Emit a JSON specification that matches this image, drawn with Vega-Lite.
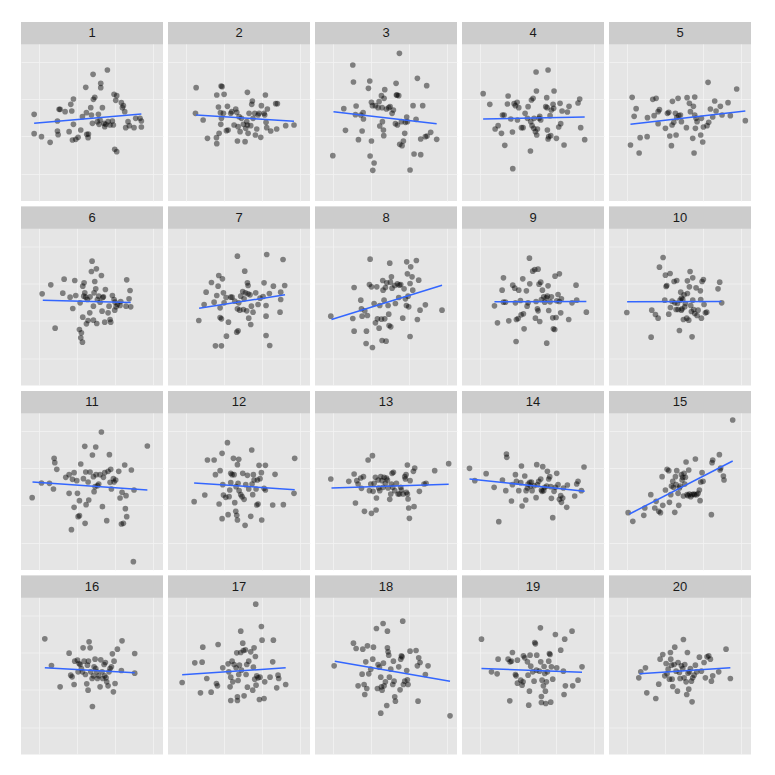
{
"$schema": "https://vega.github.io/schema/vega-lite/v6.json",
"background": "white",
"padding": {"left": 21, "top": 22, "right": 0, "bottom": 0},
"datasets": {
"pts": [
{"panel":1,"x":-185,"y":10},{"panel":1,"x":-185,"y":-48},{"panel":1,"x":-163,"y":-57},{"panel":1,"x":-137,"y":-74},{"panel":1,"x":-115,"y":-10},{"panel":1,"x":-115,"y":-40},{"panel":1,"x":-113,"y":-51},{"panel":1,"x":-110,"y":25},{"panel":1,"x":-107,"y":25},{"panel":1,"x":-92,"y":18},{"panel":1,"x":-75,"y":40},{"panel":1,"x":-72,"y":20},{"panel":1,"x":-67,"y":56},{"panel":1,"x":-80,"y":-42},{"panel":1,"x":-67,"y":-20},{"panel":1,"x":-70,"y":-67},{"panel":1,"x":-60,"y":-65},{"panel":1,"x":-53,"y":-59},{"panel":1,"x":-45,"y":-37},{"panel":1,"x":-40,"y":3},{"panel":1,"x":-30,"y":91},{"panel":1,"x":-28,"y":15},{"panel":1,"x":-27,"y":-50},{"panel":1,"x":-23,"y":-60},{"panel":1,"x":-22,"y":-49},{"panel":1,"x":-15,"y":30},{"panel":1,"x":-13,"y":8},{"panel":1,"x":-10,"y":-17},{"panel":1,"x":-8,"y":130},{"panel":1,"x":-7,"y":55},{"panel":1,"x":-3,"y":61},{"panel":1,"x":5,"y":-12},{"panel":1,"x":8,"y":10},{"panel":1,"x":10,"y":-20},{"panel":1,"x":13,"y":-7},{"panel":1,"x":15,"y":103},{"panel":1,"x":15,"y":90},{"panel":1,"x":20,"y":30},{"panel":1,"x":25,"y":-17},{"panel":1,"x":27,"y":-27},{"panel":1,"x":30,"y":-20},{"panel":1,"x":35,"y":143},{"panel":1,"x":37,"y":-12},{"panel":1,"x":43,"y":-22},{"panel":1,"x":50,"y":-10},{"panel":1,"x":53,"y":-22},{"panel":1,"x":55,"y":70},{"panel":1,"x":57,"y":-95},{"panel":1,"x":63,"y":-102},{"panel":1,"x":60,"y":52},{"panel":1,"x":63,"y":66},{"panel":1,"x":77,"y":45},{"panel":1,"x":80,"y":30},{"panel":1,"x":83,"y":36},{"panel":1,"x":87,"y":18},{"panel":1,"x":90,"y":-30},{"panel":1,"x":97,"y":-12},{"panel":1,"x":101,"y":-24},{"panel":1,"x":115,"y":-30},{"panel":1,"x":120,"y":-2},{"panel":1,"x":133,"y":-2},{"panel":1,"x":137,"y":-10},{"panel":1,"x":137,"y":-28},
{"panel":2,"x":-140,"y":90},{"panel":2,"x":-142,"y":13},{"panel":2,"x":-119,"y":-7},{"panel":2,"x":-106,"y":-62},{"panel":2,"x":-79,"y":-60},{"panel":2,"x":-78,"y":-78},{"panel":2,"x":-78,"y":68},{"panel":2,"x":-71,"y":-47},{"panel":2,"x":-73,"y":32},{"panel":2,"x":-67,"y":15},{"panel":2,"x":-65,"y":95},{"panel":2,"x":-62,"y":93},{"panel":2,"x":-56,"y":70},{"panel":2,"x":-66,"y":-20},{"panel":2,"x":-64,"y":-2},{"panel":2,"x":-58,"y":13},{"panel":2,"x":-49,"y":-39},{"panel":2,"x":-46,"y":34},{"panel":2,"x":-44,"y":-37},{"panel":2,"x":-36,"y":13},{"panel":2,"x":-33,"y":18},{"panel":2,"x":-26,"y":-22},{"panel":2,"x":-21,"y":26},{"panel":2,"x":-18,"y":16},{"panel":2,"x":-16,"y":-70},{"panel":2,"x":-14,"y":-27},{"panel":2,"x":-11,"y":3},{"panel":2,"x":-8,"y":-42},{"panel":2,"x":-4,"y":-2},{"panel":2,"x":2,"y":-20},{"panel":2,"x":7,"y":-72},{"panel":2,"x":9,"y":-32},{"panel":2,"x":12,"y":-12},{"panel":2,"x":14,"y":76},{"panel":2,"x":14,"y":-22},{"panel":2,"x":16,"y":-47},{"panel":2,"x":19,"y":13},{"panel":2,"x":24,"y":-24},{"panel":2,"x":27,"y":40},{"panel":2,"x":29,"y":50},{"panel":2,"x":31,"y":-2},{"panel":2,"x":36,"y":13},{"panel":2,"x":38,"y":-52},{"panel":2,"x":42,"y":-34},{"panel":2,"x":46,"y":8},{"panel":2,"x":49,"y":13},{"panel":2,"x":54,"y":-59},{"panel":2,"x":56,"y":36},{"panel":2,"x":64,"y":13},{"panel":2,"x":66,"y":8},{"panel":2,"x":68,"y":68},{"panel":2,"x":70,"y":-14},{"panel":2,"x":72,"y":-30},{"panel":2,"x":74,"y":26},{"panel":2,"x":84,"y":-40},{"panel":2,"x":99,"y":42},{"panel":2,"x":104,"y":42},{"panel":2,"x":102,"y":-34},{"panel":2,"x":129,"y":-24},{"panel":2,"x":154,"y":-22},
{"panel":3,"x":-171,"y":-114},{"panel":3,"x":-138,"y":27},{"panel":3,"x":-133,"y":-38},{"panel":3,"x":-111,"y":158},{"panel":3,"x":-109,"y":107},{"panel":3,"x":-103,"y":9},{"panel":3,"x":-101,"y":35},{"panel":3,"x":-94,"y":-66},{"panel":3,"x":-87,"y":8},{"panel":3,"x":-83,"y":-40},{"panel":3,"x":-80,"y":15},{"panel":3,"x":-79,"y":-4},{"panel":3,"x":-64,"y":88},{"panel":3,"x":-60,"y":110},{"panel":3,"x":-59,"y":-115},{"panel":3,"x":-55,"y":-70},{"panel":3,"x":-55,"y":46},{"panel":3,"x":-52,"y":36},{"panel":3,"x":-47,"y":-136},{"panel":3,"x":-51,"y":-158},{"panel":3,"x":-43,"y":36},{"panel":3,"x":-35,"y":30},{"panel":3,"x":-32,"y":48},{"panel":3,"x":-30,"y":-25},{"panel":3,"x":-25,"y":66},{"panel":3,"x":-23,"y":30},{"panel":3,"x":-22,"y":-12},{"panel":3,"x":-19,"y":-37},{"panel":3,"x":-18,"y":-54},{"panel":3,"x":-17,"y":58},{"panel":3,"x":-15,"y":84},{"panel":3,"x":-10,"y":26},{"panel":3,"x":-3,"y":30},{"panel":3,"x":1,"y":33},{"panel":3,"x":7,"y":13},{"panel":3,"x":11,"y":23},{"panel":3,"x":17,"y":-18},{"panel":3,"x":19,"y":103},{"panel":3,"x":20,"y":68},{"panel":3,"x":22,"y":68},{"panel":3,"x":23,"y":-22},{"panel":3,"x":27,"y":66},{"panel":3,"x":29,"y":193},{"panel":3,"x":30,"y":-80},{"panel":3,"x":35,"y":-12},{"panel":3,"x":37,"y":-84},{"panel":3,"x":41,"y":-70},{"panel":3,"x":45,"y":-47},{"panel":3,"x":47,"y":-14},{"panel":3,"x":51,"y":2},{"panel":3,"x":53,"y":-12},{"panel":3,"x":61,"y":-157},{"panel":3,"x":70,"y":36},{"panel":3,"x":73,"y":-109},{"panel":3,"x":79,"y":-5},{"panel":3,"x":83,"y":118},{"panel":3,"x":93,"y":-64},{"panel":3,"x":93,"y":-111},{"panel":3,"x":99,"y":36},{"panel":3,"x":107,"y":-57},{"panel":3,"x":112,"y":-55},{"panel":3,"x":111,"y":96},{"panel":3,"x":123,"y":-44},{"panel":3,"x":141,"y":-65},
{"panel":4,"x":-161,"y":72},{"panel":4,"x":-141,"y":40},{"panel":4,"x":-125,"y":-34},{"panel":4,"x":-116,"y":-24},{"panel":4,"x":-106,"y":-47},{"panel":4,"x":-103,"y":8},{"panel":4,"x":-98,"y":8},{"panel":4,"x":-96,"y":-83},{"panel":4,"x":-88,"y":41},{"panel":4,"x":-86,"y":65},{"panel":4,"x":-78,"y":-4},{"panel":4,"x":-73,"y":-43},{"panel":4,"x":-72,"y":-153},{"panel":4,"x":-68,"y":42},{"panel":4,"x":-64,"y":36},{"panel":4,"x":-59,"y":46},{"panel":4,"x":-58,"y":-7},{"panel":4,"x":-54,"y":30},{"panel":4,"x":-46,"y":-30},{"panel":4,"x":-41,"y":-30},{"panel":4,"x":-35,"y":13},{"panel":4,"x":-28,"y":-2},{"panel":4,"x":-26,"y":33},{"panel":4,"x":-19,"y":-100},{"panel":4,"x":-18,"y":-12},{"panel":4,"x":-16,"y":53},{"panel":4,"x":-14,"y":-24},{"panel":4,"x":-11,"y":58},{"panel":4,"x":-9,"y":-32},{"panel":4,"x":-8,"y":-2},{"panel":4,"x":-4,"y":-42},{"panel":4,"x":-2,"y":137},{"panel":4,"x":-1,"y":80},{"panel":4,"x":0,"y":-52},{"panel":4,"x":2,"y":-34},{"panel":4,"x":7,"y":-2},{"panel":4,"x":9,"y":4},{"panel":4,"x":12,"y":-7},{"panel":4,"x":27,"y":33},{"panel":4,"x":30,"y":60},{"panel":4,"x":31,"y":30},{"panel":4,"x":32,"y":-37},{"panel":4,"x":34,"y":143},{"panel":4,"x":34,"y":-64},{"panel":4,"x":36,"y":-57},{"panel":4,"x":40,"y":6},{"panel":4,"x":42,"y":-54},{"panel":4,"x":44,"y":23},{"panel":4,"x":49,"y":40},{"panel":4,"x":51,"y":28},{"panel":4,"x":52,"y":80},{"panel":4,"x":59,"y":-62},{"panel":4,"x":66,"y":-28},{"panel":4,"x":70,"y":43},{"panel":4,"x":72,"y":-18},{"panel":4,"x":76,"y":20},{"panel":4,"x":82,"y":-82},{"panel":4,"x":92,"y":17},{"panel":4,"x":97,"y":34},{"panel":4,"x":124,"y":44},{"panel":4,"x":129,"y":56},{"panel":4,"x":132,"y":-30},{"panel":4,"x":144,"y":-66},
{"panel":5,"x":-160,"y":-82},{"panel":5,"x":-155,"y":61},{"panel":5,"x":-149,"y":4},{"panel":5,"x":-143,"y":27},{"panel":5,"x":-134,"y":-106},{"panel":5,"x":-131,"y":-60},{"panel":5,"x":-110,"y":-57},{"panel":5,"x":-109,"y":0},{"panel":5,"x":-93,"y":55},{"panel":5,"x":-89,"y":6},{"panel":5,"x":-83,"y":58},{"panel":5,"x":-77,"y":18},{"panel":5,"x":-77,"y":-18},{"panel":5,"x":-73,"y":24},{"panel":5,"x":-55,"y":-32},{"panel":5,"x":-49,"y":13},{"panel":5,"x":-45,"y":16},{"panel":5,"x":-42,"y":-55},{"panel":5,"x":-37,"y":-84},{"panel":5,"x":-35,"y":-22},{"panel":5,"x":-34,"y":49},{"panel":5,"x":-30,"y":-14},{"panel":5,"x":-25,"y":13},{"panel":5,"x":-23,"y":-52},{"panel":5,"x":-21,"y":0},{"panel":5,"x":-17,"y":58},{"panel":5,"x":-15,"y":6},{"panel":5,"x":-10,"y":8},{"panel":5,"x":-7,"y":-12},{"panel":5,"x":8,"y":-30},{"panel":5,"x":10,"y":60},{"panel":5,"x":17,"y":43},{"panel":5,"x":20,"y":18},{"panel":5,"x":27,"y":-62},{"panel":5,"x":29,"y":34},{"panel":5,"x":31,"y":-106},{"panel":5,"x":33,"y":62},{"panel":5,"x":33,"y":8},{"panel":5,"x":35,"y":-32},{"panel":5,"x":37,"y":-2},{"panel":5,"x":40,"y":-12},{"panel":5,"x":51,"y":-52},{"panel":5,"x":53,"y":-2},{"panel":5,"x":57,"y":-73},{"panel":5,"x":59,"y":-28},{"panel":5,"x":70,"y":-24},{"panel":5,"x":73,"y":106},{"panel":5,"x":75,"y":-14},{"panel":5,"x":80,"y":26},{"panel":5,"x":87,"y":2},{"panel":5,"x":93,"y":50},{"panel":5,"x":97,"y":20},{"panel":5,"x":110,"y":34},{"panel":5,"x":115,"y":8},{"panel":5,"x":133,"y":45},{"panel":5,"x":140,"y":6},{"panel":5,"x":159,"y":86},{"panel":5,"x":185,"y":-9},
{"panel":6,"x":-161,"y":25},{"panel":6,"x":-135,"y":52},{"panel":6,"x":-122,"y":-78},{"panel":6,"x":-99,"y":27},{"panel":6,"x":-95,"y":69},{"panel":6,"x":-77,"y":15},{"panel":6,"x":-69,"y":-19},{"panel":6,"x":-63,"y":65},{"panel":6,"x":-60,"y":20},{"panel":6,"x":-49,"y":-82},{"panel":6,"x":-45,"y":-107},{"panel":6,"x":-43,"y":-92},{"panel":6,"x":-40,"y":-120},{"panel":6,"x":-39,"y":-45},{"panel":6,"x":-47,"y":-2},{"panel":6,"x":-39,"y":48},{"panel":6,"x":-36,"y":18},{"panel":6,"x":-35,"y":58},{"panel":6,"x":-33,"y":28},{"panel":6,"x":-30,"y":15},{"panel":6,"x":-28,"y":-65},{"panel":6,"x":-25,"y":8},{"panel":6,"x":-23,"y":-55},{"panel":6,"x":-18,"y":-32},{"panel":6,"x":-17,"y":16},{"panel":6,"x":-13,"y":92},{"panel":6,"x":-11,"y":123},{"panel":6,"x":-7,"y":-12},{"panel":6,"x":-7,"y":-54},{"panel":6,"x":-5,"y":28},{"panel":6,"x":-3,"y":62},{"panel":6,"x":0,"y":40},{"panel":6,"x":2,"y":100},{"panel":6,"x":3,"y":-64},{"panel":6,"x":5,"y":8},{"panel":6,"x":9,"y":18},{"panel":6,"x":13,"y":0},{"panel":6,"x":17,"y":80},{"panel":6,"x":19,"y":-27},{"panel":6,"x":21,"y":14},{"panel":6,"x":23,"y":16},{"panel":6,"x":27,"y":-60},{"panel":6,"x":29,"y":38},{"panel":6,"x":37,"y":-32},{"panel":6,"x":40,"y":-12},{"panel":6,"x":43,"y":-52},{"panel":6,"x":45,"y":-60},{"panel":6,"x":50,"y":20},{"panel":6,"x":55,"y":8},{"panel":6,"x":57,"y":-24},{"panel":6,"x":58,"y":0},{"panel":6,"x":61,"y":-14},{"panel":6,"x":65,"y":-7},{"panel":6,"x":73,"y":-10},{"panel":6,"x":75,"y":2},{"panel":6,"x":91,"y":-12},{"panel":6,"x":93,"y":67},{"panel":6,"x":100,"y":10},{"panel":6,"x":103,"y":35},{"panel":6,"x":105,"y":-14},
{"panel":7,"x":-132,"y":-55},{"panel":7,"x":-116,"y":-7},{"panel":7,"x":-110,"y":30},{"panel":7,"x":-94,"y":59},{"panel":7,"x":-86,"y":0},{"panel":7,"x":-82,"y":-131},{"panel":7,"x":-78,"y":20},{"panel":7,"x":-74,"y":48},{"panel":7,"x":-72,"y":80},{"panel":7,"x":-68,"y":-17},{"panel":7,"x":-68,"y":-46},{"panel":7,"x":-64,"y":-50},{"panel":7,"x":-64,"y":-131},{"panel":7,"x":-61,"y":70},{"panel":7,"x":-58,"y":28},{"panel":7,"x":-56,"y":-2},{"panel":7,"x":-50,"y":14},{"panel":7,"x":-49,"y":-102},{"panel":7,"x":-43,"y":-60},{"panel":7,"x":-36,"y":15},{"panel":7,"x":-32,"y":15},{"panel":7,"x":-24,"y":3},{"panel":7,"x":-18,"y":-90},{"panel":7,"x":-16,"y":138},{"panel":7,"x":-16,"y":-20},{"panel":7,"x":-14,"y":-86},{"panel":7,"x":-12,"y":-2},{"panel":7,"x":-9,"y":-24},{"panel":7,"x":-6,"y":18},{"panel":7,"x":0,"y":32},{"panel":7,"x":2,"y":-22},{"panel":7,"x":4,"y":10},{"panel":7,"x":6,"y":93},{"panel":7,"x":8,"y":28},{"panel":7,"x":12,"y":-26},{"panel":7,"x":14,"y":58},{"panel":7,"x":16,"y":50},{"panel":7,"x":16,"y":25},{"panel":7,"x":18,"y":-48},{"panel":7,"x":22,"y":22},{"panel":7,"x":24,"y":-67},{"panel":7,"x":26,"y":-12},{"panel":7,"x":31,"y":-30},{"panel":7,"x":39,"y":28},{"panel":7,"x":46,"y":-7},{"panel":7,"x":52,"y":12},{"panel":7,"x":61,"y":17},{"panel":7,"x":64,"y":58},{"panel":7,"x":70,"y":-42},{"panel":7,"x":70,"y":-10},{"panel":7,"x":70,"y":-100},{"panel":7,"x":72,"y":143},{"panel":7,"x":80,"y":26},{"panel":7,"x":81,"y":-130},{"panel":7,"x":92,"y":48},{"panel":7,"x":112,"y":-30},{"panel":7,"x":114,"y":8},{"panel":7,"x":114,"y":30},{"panel":7,"x":121,"y":128},{"panel":7,"x":126,"y":50},
{"panel":8,"x":-177,"y":-42},{"panel":8,"x":-111,"y":-49},{"panel":8,"x":-107,"y":44},{"panel":8,"x":-107,"y":-87},{"panel":8,"x":-87,"y":6},{"panel":8,"x":-85,"y":-20},{"panel":8,"x":-83,"y":-42},{"panel":8,"x":-75,"y":-26},{"panel":8,"x":-71,"y":-124},{"panel":8,"x":-70,"y":-87},{"panel":8,"x":-67,"y":-40},{"panel":8,"x":-61,"y":53},{"panel":8,"x":-59,"y":129},{"panel":8,"x":-55,"y":46},{"panel":8,"x":-52,"y":-136},{"panel":8,"x":-47,"y":-4},{"panel":8,"x":-43,"y":-62},{"panel":8,"x":-39,"y":46},{"panel":8,"x":-37,"y":-50},{"panel":8,"x":-32,"y":-78},{"panel":8,"x":-30,"y":-10},{"panel":8,"x":-25,"y":-51},{"panel":8,"x":-23,"y":-115},{"panel":8,"x":-21,"y":65},{"panel":8,"x":-20,"y":36},{"panel":8,"x":-17,"y":6},{"panel":8,"x":-15,"y":-50},{"panel":8,"x":-13,"y":44},{"panel":8,"x":-11,"y":-117},{"panel":8,"x":-9,"y":58},{"panel":8,"x":-5,"y":-10},{"panel":8,"x":-3,"y":-36},{"panel":8,"x":-2,"y":-70},{"panel":8,"x":0,"y":117},{"panel":8,"x":2,"y":60},{"panel":8,"x":3,"y":-74},{"panel":8,"x":5,"y":76},{"panel":8,"x":7,"y":42},{"panel":8,"x":15,"y":50},{"panel":8,"x":17,"y":-4},{"panel":8,"x":23,"y":55},{"panel":8,"x":27,"y":14},{"panel":8,"x":29,"y":51},{"panel":8,"x":33,"y":53},{"panel":8,"x":39,"y":-48},{"panel":8,"x":43,"y":40},{"panel":8,"x":47,"y":10},{"panel":8,"x":50,"y":-10},{"panel":8,"x":51,"y":121},{"panel":8,"x":53,"y":85},{"panel":8,"x":55,"y":18},{"panel":8,"x":57,"y":-14},{"panel":8,"x":61,"y":56},{"panel":8,"x":61,"y":-103},{"panel":8,"x":63,"y":106},{"panel":8,"x":67,"y":76},{"panel":8,"x":69,"y":36},{"panel":8,"x":80,"y":125},{"panel":8,"x":83,"y":-52},{"panel":8,"x":87,"y":66},{"panel":8,"x":91,"y":-24},{"panel":8,"x":107,"y":-8},{"panel":8,"x":157,"y":-24},
{"panel":9,"x":-127,"y":-11},{"panel":9,"x":-118,"y":-62},{"panel":9,"x":-104,"y":36},{"panel":9,"x":-100,"y":73},{"panel":9,"x":-100,"y":0},{"panel":9,"x":-94,"y":0},{"panel":9,"x":-84,"y":-56},{"panel":9,"x":-72,"y":51},{"panel":9,"x":-66,"y":42},{"panel":9,"x":-64,"y":-2},{"panel":9,"x":-62,"y":-118},{"panel":9,"x":-61,"y":-52},{"panel":9,"x":-56,"y":-49},{"panel":9,"x":-54,"y":36},{"panel":9,"x":-49,"y":5},{"panel":9,"x":-47,"y":-38},{"panel":9,"x":-42,"y":70},{"panel":9,"x":-40,"y":-35},{"panel":9,"x":-38,"y":-80},{"panel":9,"x":-31,"y":34},{"panel":9,"x":-29,"y":-12},{"panel":9,"x":-26,"y":-2},{"panel":9,"x":-22,"y":132},{"panel":9,"x":-21,"y":55},{"panel":9,"x":-12,"y":93},{"panel":9,"x":-6,"y":98},{"panel":9,"x":-4,"y":-48},{"panel":9,"x":-2,"y":2},{"panel":9,"x":2,"y":-20},{"panel":9,"x":4,"y":-26},{"panel":9,"x":4,"y":99},{"panel":9,"x":7,"y":54},{"panel":9,"x":9,"y":-58},{"panel":9,"x":12,"y":60},{"panel":9,"x":14,"y":8},{"panel":9,"x":17,"y":36},{"panel":9,"x":21,"y":16},{"panel":9,"x":24,"y":0},{"panel":9,"x":29,"y":13},{"panel":9,"x":30,"y":-123},{"panel":9,"x":32,"y":18},{"panel":9,"x":34,"y":49},{"panel":9,"x":36,"y":-25},{"panel":9,"x":40,"y":1},{"panel":9,"x":44,"y":16},{"panel":9,"x":48,"y":-47},{"panel":9,"x":50,"y":-80},{"panel":9,"x":54,"y":-82},{"panel":9,"x":55,"y":78},{"panel":9,"x":58,"y":-46},{"panel":9,"x":60,"y":4},{"panel":9,"x":64,"y":23},{"panel":9,"x":68,"y":85},{"panel":9,"x":68,"y":2},{"panel":9,"x":72,"y":-32},{"panel":9,"x":74,"y":10},{"panel":9,"x":96,"y":-52},{"panel":9,"x":106,"y":-2},{"panel":9,"x":118,"y":51},{"panel":9,"x":120,"y":6},{"panel":9,"x":149,"y":-30},
{"panel":10,"x":-171,"y":-31},{"panel":10,"x":-98,"y":-105},{"panel":10,"x":-96,"y":-24},{"panel":10,"x":-85,"y":-37},{"panel":10,"x":-77,"y":-48},{"panel":10,"x":-73,"y":105},{"panel":10,"x":-62,"y":134},{"panel":10,"x":-57,"y":6},{"panel":10,"x":-55,"y":81},{"panel":10,"x":-53,"y":47},{"panel":10,"x":-51,"y":50},{"panel":10,"x":-45,"y":-36},{"panel":10,"x":-41,"y":86},{"panel":10,"x":-40,"y":-16},{"panel":10,"x":-35,"y":3},{"panel":10,"x":-29,"y":62},{"panel":10,"x":-27,"y":-2},{"panel":10,"x":-23,"y":-22},{"panel":10,"x":-21,"y":65},{"panel":10,"x":-19,"y":-4},{"panel":10,"x":-17,"y":-22},{"panel":10,"x":-13,"y":-85},{"panel":10,"x":-11,"y":6},{"panel":10,"x":-9,"y":30},{"panel":10,"x":-7,"y":12},{"panel":10,"x":-7,"y":-24},{"panel":10,"x":-5,"y":-20},{"panel":10,"x":-3,"y":8},{"panel":10,"x":-1,"y":-52},{"panel":10,"x":1,"y":22},{"panel":10,"x":3,"y":-14},{"panel":10,"x":5,"y":-4},{"panel":10,"x":9,"y":-48},{"panel":10,"x":11,"y":26},{"panel":10,"x":11,"y":64},{"panel":10,"x":15,"y":-54},{"panel":10,"x":17,"y":46},{"panel":10,"x":19,"y":92},{"panel":10,"x":21,"y":-10},{"panel":10,"x":23,"y":-28},{"panel":10,"x":25,"y":-104},{"panel":10,"x":27,"y":73},{"panel":10,"x":27,"y":6},{"panel":10,"x":30,"y":-22},{"panel":10,"x":33,"y":-34},{"panel":10,"x":37,"y":43},{"panel":10,"x":40,"y":-40},{"panel":10,"x":43,"y":-24},{"panel":10,"x":50,"y":34},{"panel":10,"x":51,"y":8},{"panel":10,"x":53,"y":-48},{"panel":10,"x":55,"y":62},{"panel":10,"x":59,"y":68},{"panel":10,"x":61,"y":-7},{"panel":10,"x":65,"y":-32},{"panel":10,"x":69,"y":-30},{"panel":10,"x":103,"y":40},{"panel":10,"x":108,"y":60},{"panel":10,"x":114,"y":-2},
{"panel":11,"x":-191,"y":-33},{"panel":11,"x":-163,"y":11},{"panel":11,"x":-139,"y":10},{"panel":11,"x":-127,"y":-7},{"panel":11,"x":-125,"y":85},{"panel":11,"x":-123,"y":72},{"panel":11,"x":-117,"y":52},{"panel":11,"x":-90,"y":28},{"panel":11,"x":-80,"y":-20},{"panel":11,"x":-80,"y":36},{"panel":11,"x":-73,"y":-129},{"panel":11,"x":-70,"y":22},{"panel":11,"x":-65,"y":42},{"panel":11,"x":-65,"y":-62},{"panel":11,"x":-57,"y":18},{"panel":11,"x":-55,"y":-20},{"panel":11,"x":-53,"y":-90},{"panel":11,"x":-49,"y":-87},{"panel":11,"x":-49,"y":-42},{"panel":11,"x":-45,"y":68},{"panel":11,"x":-37,"y":24},{"panel":11,"x":-33,"y":121},{"panel":11,"x":-32,"y":-110},{"panel":11,"x":-30,"y":44},{"panel":11,"x":-29,"y":-54},{"panel":11,"x":-23,"y":14},{"panel":11,"x":-21,"y":-40},{"panel":11,"x":-17,"y":44},{"panel":11,"x":-10,"y":95},{"panel":11,"x":-7,"y":30},{"panel":11,"x":-5,"y":-15},{"panel":11,"x":-2,"y":0},{"panel":11,"x":0,"y":119},{"panel":11,"x":1,"y":36},{"panel":11,"x":5,"y":3},{"panel":11,"x":9,"y":8},{"panel":11,"x":13,"y":36},{"panel":11,"x":17,"y":164},{"panel":11,"x":20,"y":-60},{"panel":11,"x":23,"y":28},{"panel":11,"x":27,"y":42},{"panel":11,"x":33,"y":-102},{"panel":11,"x":37,"y":46},{"panel":11,"x":41,"y":96},{"panel":11,"x":43,"y":13},{"panel":11,"x":45,"y":52},{"panel":11,"x":47,"y":-7},{"panel":11,"x":53,"y":24},{"panel":11,"x":55,"y":14},{"panel":11,"x":60,"y":20},{"panel":11,"x":69,"y":46},{"panel":11,"x":73,"y":-34},{"panel":11,"x":77,"y":-112},{"panel":11,"x":79,"y":-17},{"panel":11,"x":83,"y":-110},{"panel":11,"x":87,"y":65},{"panel":11,"x":89,"y":-66},{"panel":11,"x":91,"y":-27},{"panel":11,"x":93,"y":-90},{"panel":11,"x":107,"y":50},{"panel":11,"x":113,"y":-225},{"panel":11,"x":115,"y":-10},{"panel":11,"x":155,"y":122},
{"panel":12,"x":-146,"y":-45},{"panel":12,"x":-114,"y":-25},{"panel":12,"x":-106,"y":80},{"panel":12,"x":-86,"y":80},{"panel":12,"x":-82,"y":36},{"panel":12,"x":-71,"y":-52},{"panel":12,"x":-68,"y":48},{"panel":12,"x":-62,"y":100},{"panel":12,"x":-62,"y":-96},{"panel":12,"x":-60,"y":6},{"panel":12,"x":-58,"y":-25},{"panel":12,"x":-51,"y":-32},{"panel":12,"x":-46,"y":132},{"panel":12,"x":-44,"y":-84},{"panel":12,"x":-41,"y":-30},{"panel":12,"x":-39,"y":-10},{"panel":12,"x":-36,"y":12},{"panel":12,"x":-36,"y":40},{"panel":12,"x":-32,"y":36},{"panel":12,"x":-28,"y":85},{"panel":12,"x":-26,"y":36},{"panel":12,"x":-24,"y":-48},{"panel":12,"x":-21,"y":-74},{"panel":12,"x":-20,"y":0},{"panel":12,"x":-18,"y":-86},{"panel":12,"x":-16,"y":-100},{"panel":12,"x":-16,"y":66},{"panel":12,"x":-14,"y":10},{"panel":12,"x":-12,"y":82},{"panel":12,"x":-11,"y":-12},{"panel":12,"x":-6,"y":-24},{"panel":12,"x":-2,"y":-30},{"panel":12,"x":0,"y":40},{"panel":12,"x":4,"y":-38},{"panel":12,"x":7,"y":-116},{"panel":12,"x":9,"y":6},{"panel":12,"x":14,"y":34},{"panel":12,"x":18,"y":-7},{"panel":12,"x":24,"y":-89},{"panel":12,"x":27,"y":110},{"panel":12,"x":28,"y":8},{"panel":12,"x":30,"y":-24},{"panel":12,"x":32,"y":36},{"panel":12,"x":34,"y":20},{"panel":12,"x":40,"y":-7},{"panel":12,"x":42,"y":-55},{"panel":12,"x":44,"y":20},{"panel":12,"x":46,"y":-52},{"panel":12,"x":49,"y":64},{"panel":12,"x":52,"y":24},{"panel":12,"x":56,"y":42},{"panel":12,"x":57,"y":-100},{"panel":12,"x":64,"y":-5},{"panel":12,"x":68,"y":64},{"panel":12,"x":68,"y":-10},{"panel":12,"x":90,"y":-55},{"panel":12,"x":97,"y":37},{"panel":12,"x":122,"y":-54},{"panel":12,"x":154,"y":-20},{"panel":12,"x":156,"y":85},
{"panel":13,"x":-177,"y":23},{"panel":13,"x":-123,"y":16},{"panel":13,"x":-107,"y":38},{"panel":13,"x":-103,"y":-49},{"panel":13,"x":-99,"y":18},{"panel":13,"x":-95,"y":8},{"panel":13,"x":-87,"y":26},{"panel":13,"x":-85,"y":-5},{"panel":13,"x":-79,"y":30},{"panel":13,"x":-76,"y":-74},{"panel":13,"x":-65,"y":80},{"panel":13,"x":-61,"y":-12},{"panel":13,"x":-57,"y":8},{"panel":13,"x":-55,"y":-80},{"panel":13,"x":-52,"y":93},{"panel":13,"x":-50,"y":-14},{"panel":13,"x":-47,"y":10},{"panel":13,"x":-43,"y":28},{"panel":13,"x":-41,"y":-70},{"panel":13,"x":-40,"y":-34},{"panel":13,"x":-35,"y":20},{"panel":13,"x":-33,"y":-4},{"panel":13,"x":-30,"y":-12},{"panel":13,"x":-27,"y":30},{"panel":13,"x":-23,"y":18},{"panel":13,"x":-20,"y":-2},{"panel":13,"x":-17,"y":28},{"panel":13,"x":-13,"y":10},{"panel":13,"x":-10,"y":26},{"panel":13,"x":-7,"y":20},{"panel":13,"x":-5,"y":-4},{"panel":13,"x":0,"y":-38},{"panel":13,"x":3,"y":-22},{"panel":13,"x":5,"y":8},{"panel":13,"x":7,"y":40},{"panel":13,"x":9,"y":-2},{"panel":13,"x":11,"y":43},{"panel":13,"x":15,"y":-12},{"panel":13,"x":20,"y":10},{"panel":13,"x":25,"y":-22},{"panel":13,"x":29,"y":-22},{"panel":13,"x":33,"y":-2},{"panel":13,"x":35,"y":-10},{"panel":13,"x":40,"y":-22},{"panel":13,"x":45,"y":30},{"panel":13,"x":47,"y":23},{"panel":13,"x":49,"y":36},{"panel":13,"x":50,"y":-17},{"panel":13,"x":53,"y":65},{"panel":13,"x":53,"y":-22},{"panel":13,"x":55,"y":-37},{"panel":13,"x":57,"y":-64},{"panel":13,"x":59,"y":-95},{"panel":13,"x":61,"y":18},{"panel":13,"x":71,"y":46},{"panel":13,"x":73,"y":-60},{"panel":13,"x":75,"y":56},{"panel":13,"x":89,"y":-14},{"panel":13,"x":103,"y":8},{"panel":13,"x":109,"y":10},{"panel":13,"x":135,"y":48},{"panel":13,"x":177,"y":69},
{"panel":14,"x":-202,"y":55},{"panel":14,"x":-186,"y":18},{"panel":14,"x":-152,"y":39},{"panel":14,"x":-128,"y":-2},{"panel":14,"x":-114,"y":-105},{"panel":14,"x":-103,"y":20},{"panel":14,"x":-93,"y":-12},{"panel":14,"x":-91,"y":98},{"panel":14,"x":-90,"y":88},{"panel":14,"x":-76,"y":-43},{"panel":14,"x":-73,"y":6},{"panel":14,"x":-64,"y":36},{"panel":14,"x":-61,"y":16},{"panel":14,"x":-54,"y":-12},{"panel":14,"x":-48,"y":12},{"panel":14,"x":-46,"y":62},{"panel":14,"x":-44,"y":-58},{"panel":14,"x":-36,"y":32},{"panel":14,"x":-33,"y":-40},{"panel":14,"x":-32,"y":-12},{"panel":14,"x":-28,"y":-4},{"panel":14,"x":-26,"y":8},{"panel":14,"x":-21,"y":13},{"panel":14,"x":-19,"y":2},{"panel":14,"x":-16,"y":14},{"panel":14,"x":-14,"y":-12},{"panel":14,"x":-8,"y":3},{"panel":14,"x":-2,"y":-33},{"panel":14,"x":0,"y":66},{"panel":14,"x":2,"y":6},{"panel":14,"x":6,"y":16},{"panel":14,"x":12,"y":23},{"panel":14,"x":14,"y":-10},{"panel":14,"x":16,"y":-14},{"panel":14,"x":18,"y":60},{"panel":14,"x":21,"y":-12},{"panel":14,"x":24,"y":-2},{"panel":14,"x":30,"y":2},{"panel":14,"x":32,"y":46},{"panel":14,"x":36,"y":23},{"panel":14,"x":39,"y":30},{"panel":14,"x":42,"y":0},{"panel":14,"x":44,"y":-35},{"panel":14,"x":48,"y":-93},{"panel":14,"x":52,"y":-14},{"panel":14,"x":56,"y":-2},{"panel":14,"x":60,"y":40},{"panel":14,"x":64,"y":6},{"panel":14,"x":68,"y":-38},{"panel":14,"x":72,"y":-27},{"panel":14,"x":74,"y":-47},{"panel":14,"x":78,"y":-34},{"panel":14,"x":80,"y":-4},{"panel":14,"x":90,"y":-62},{"panel":14,"x":92,"y":5},{"panel":14,"x":114,"y":-28},{"panel":14,"x":120,"y":8},{"panel":14,"x":124,"y":16},{"panel":14,"x":134,"y":-12},{"panel":14,"x":142,"y":59},
{"panel":15,"x":-167,"y":-78},{"panel":15,"x":-153,"y":-104},{"panel":15,"x":-120,"y":-86},{"panel":15,"x":-117,"y":-64},{"panel":15,"x":-99,"y":-24},{"panel":15,"x":-87,"y":-64},{"panel":15,"x":-83,"y":-44},{"panel":15,"x":-75,"y":-74},{"panel":15,"x":-70,"y":-78},{"panel":15,"x":-63,"y":-56},{"panel":15,"x":-65,"y":30},{"panel":15,"x":-55,"y":-10},{"panel":15,"x":-50,"y":52},{"panel":15,"x":-45,"y":48},{"panel":15,"x":-43,"y":-47},{"panel":15,"x":-39,"y":-24},{"panel":15,"x":-37,"y":2},{"panel":15,"x":-33,"y":16},{"panel":15,"x":-31,"y":-2},{"panel":15,"x":-27,"y":-77},{"panel":15,"x":-25,"y":30},{"panel":15,"x":-23,"y":6},{"panel":15,"x":-21,"y":48},{"panel":15,"x":-17,"y":-20},{"panel":15,"x":-15,"y":-56},{"panel":15,"x":-13,"y":-4},{"panel":15,"x":-11,"y":2},{"panel":15,"x":-7,"y":36},{"panel":15,"x":-5,"y":20},{"panel":15,"x":-3,"y":28},{"panel":15,"x":-1,"y":-28},{"panel":15,"x":1,"y":40},{"panel":15,"x":3,"y":8},{"panel":15,"x":5,"y":28},{"panel":15,"x":7,"y":74},{"panel":15,"x":10,"y":-24},{"panel":15,"x":13,"y":-27},{"panel":15,"x":15,"y":50},{"panel":15,"x":17,"y":-22},{"panel":15,"x":21,"y":-30},{"panel":15,"x":25,"y":-24},{"panel":15,"x":30,"y":-22},{"panel":15,"x":33,"y":-24},{"panel":15,"x":35,"y":83},{"panel":15,"x":39,"y":-24},{"panel":15,"x":43,"y":-20},{"panel":15,"x":47,"y":-10},{"panel":15,"x":49,"y":-42},{"panel":15,"x":51,"y":14},{"panel":15,"x":55,"y":42},{"panel":15,"x":58,"y":16},{"panel":15,"x":83,"y":-84},{"panel":15,"x":85,"y":72},{"panel":15,"x":87,"y":80},{"panel":15,"x":107,"y":96},{"panel":15,"x":109,"y":50},{"panel":15,"x":111,"y":56},{"panel":15,"x":119,"y":32},{"panel":15,"x":121,"y":20},{"panel":15,"x":147,"y":200},
{"panel":16,"x":-153,"y":97},{"panel":16,"x":-133,"y":17},{"panel":16,"x":-107,"y":-47},{"panel":16,"x":-80,"y":54},{"panel":16,"x":-75,"y":-12},{"panel":16,"x":-71,"y":-17},{"panel":16,"x":-65,"y":-40},{"panel":16,"x":-63,"y":30},{"panel":16,"x":-55,"y":33},{"panel":16,"x":-53,"y":-2},{"panel":16,"x":-50,"y":23},{"panel":16,"x":-47,"y":20},{"panel":16,"x":-43,"y":8},{"panel":16,"x":-40,"y":-2},{"panel":16,"x":-38,"y":70},{"panel":16,"x":-35,"y":30},{"panel":16,"x":-31,"y":-10},{"panel":16,"x":-27,"y":-38},{"panel":16,"x":-25,"y":18},{"panel":16,"x":-23,"y":-57},{"panel":16,"x":-22,"y":30},{"panel":16,"x":-20,"y":88},{"panel":16,"x":-17,"y":70},{"panel":16,"x":-15,"y":-2},{"panel":16,"x":-11,"y":-22},{"panel":16,"x":-10,"y":-106},{"panel":16,"x":-7,"y":-14},{"panel":16,"x":-5,"y":13},{"panel":16,"x":-2,"y":36},{"panel":16,"x":0,"y":8},{"panel":16,"x":3,"y":-2},{"panel":16,"x":5,"y":-22},{"panel":16,"x":9,"y":-14},{"panel":16,"x":13,"y":-47},{"panel":16,"x":15,"y":34},{"panel":16,"x":19,"y":-2},{"panel":16,"x":21,"y":-22},{"panel":16,"x":25,"y":20},{"panel":16,"x":27,"y":-14},{"panel":16,"x":29,"y":26},{"panel":16,"x":31,"y":-20},{"panel":16,"x":33,"y":-32},{"panel":16,"x":37,"y":-44},{"panel":16,"x":40,"y":-2},{"panel":16,"x":43,"y":8},{"panel":16,"x":47,"y":13},{"panel":16,"x":50,"y":52},{"panel":16,"x":53,"y":-62},{"panel":16,"x":55,"y":30},{"panel":16,"x":58,"y":-37},{"panel":16,"x":65,"y":66},{"panel":16,"x":77,"y":2},{"panel":16,"x":79,"y":91},{"panel":16,"x":117,"y":53},{"panel":16,"x":117,"y":-6},
{"panel":17,"x":-182,"y":-34},{"panel":17,"x":-144,"y":25},{"panel":17,"x":-127,"y":-65},{"panel":17,"x":-122,"y":27},{"panel":17,"x":-120,"y":72},{"panel":17,"x":-108,"y":-22},{"panel":17,"x":-95,"y":-63},{"panel":17,"x":-79,"y":-37},{"panel":17,"x":-76,"y":-44},{"panel":17,"x":-74,"y":80},{"panel":17,"x":-60,"y":10},{"panel":17,"x":-44,"y":22},{"panel":17,"x":-42,"y":-2},{"panel":17,"x":-38,"y":-47},{"panel":17,"x":-36,"y":-88},{"panel":17,"x":-36,"y":-18},{"panel":17,"x":-32,"y":30},{"panel":17,"x":-30,"y":-32},{"panel":17,"x":-26,"y":20},{"panel":17,"x":-20,"y":10},{"panel":17,"x":-18,"y":55},{"panel":17,"x":-16,"y":-88},{"panel":17,"x":-16,"y":-77},{"panel":17,"x":-14,"y":-28},{"panel":17,"x":-12,"y":-10},{"panel":17,"x":-10,"y":18},{"panel":17,"x":-6,"y":120},{"panel":17,"x":-6,"y":56},{"panel":17,"x":-4,"y":3},{"panel":17,"x":0,"y":84},{"panel":17,"x":2,"y":62},{"panel":17,"x":4,"y":-74},{"panel":17,"x":8,"y":64},{"panel":17,"x":10,"y":-10},{"panel":17,"x":12,"y":20},{"panel":17,"x":14,"y":-48},{"panel":17,"x":18,"y":30},{"panel":17,"x":24,"y":58},{"panel":17,"x":30,"y":-57},{"panel":17,"x":32,"y":12},{"panel":17,"x":34,"y":70},{"panel":17,"x":36,"y":-24},{"panel":17,"x":38,"y":44},{"panel":17,"x":39,"y":201},{"panel":17,"x":40,"y":-42},{"panel":17,"x":42,"y":-14},{"panel":17,"x":46,"y":-20},{"panel":17,"x":50,"y":-85},{"panel":17,"x":52,"y":-18},{"panel":17,"x":56,"y":134},{"panel":17,"x":58,"y":93},{"panel":17,"x":64,"y":-82},{"panel":17,"x":66,"y":-32},{"panel":17,"x":82,"y":-18},{"panel":17,"x":90,"y":28},{"panel":17,"x":92,"y":93},{"panel":17,"x":102,"y":-50},{"panel":17,"x":106,"y":-12},{"panel":17,"x":108,"y":-22},{"panel":17,"x":129,"y":-40},
{"panel":18,"x":-167,"y":16},{"panel":18,"x":-109,"y":84},{"panel":18,"x":-101,"y":68},{"panel":18,"x":-95,"y":-44},{"panel":18,"x":-83,"y":-9},{"panel":18,"x":-81,"y":66},{"panel":18,"x":-77,"y":-40},{"panel":18,"x":-75,"y":-70},{"panel":18,"x":-72,"y":28},{"panel":18,"x":-69,"y":-52},{"panel":18,"x":-67,"y":76},{"panel":18,"x":-63,"y":-8},{"panel":18,"x":-57,"y":6},{"panel":18,"x":-51,"y":36},{"panel":18,"x":-49,"y":72},{"panel":18,"x":-40,"y":128},{"panel":18,"x":-37,"y":-52},{"panel":18,"x":-35,"y":20},{"panel":18,"x":-31,"y":12},{"panel":18,"x":-27,"y":-126},{"panel":18,"x":-27,"y":-18},{"panel":18,"x":-25,"y":-47},{"panel":18,"x":-23,"y":-57},{"panel":18,"x":-20,"y":143},{"panel":18,"x":-19,"y":24},{"panel":18,"x":-17,"y":-44},{"panel":18,"x":-13,"y":-32},{"panel":18,"x":-9,"y":-103},{"panel":18,"x":-7,"y":120},{"panel":18,"x":-7,"y":70},{"panel":18,"x":-5,"y":58},{"panel":18,"x":-3,"y":48},{"panel":18,"x":-1,"y":-18},{"panel":18,"x":3,"y":6},{"panel":18,"x":9,"y":-40},{"panel":18,"x":11,"y":30},{"panel":18,"x":13,"y":-30},{"panel":18,"x":15,"y":-77},{"panel":18,"x":17,"y":-90},{"panel":18,"x":27,"y":13},{"panel":18,"x":31,"y":-56},{"panel":18,"x":33,"y":36},{"panel":18,"x":35,"y":46},{"panel":18,"x":37,"y":43},{"panel":18,"x":39,"y":150},{"panel":18,"x":41,"y":-40},{"panel":18,"x":45,"y":-30},{"panel":18,"x":51,"y":2},{"panel":18,"x":53,"y":-26},{"panel":18,"x":55,"y":-40},{"panel":18,"x":61,"y":60},{"panel":18,"x":79,"y":62},{"panel":18,"x":83,"y":16},{"panel":18,"x":87,"y":40},{"panel":18,"x":91,"y":26},{"panel":18,"x":85,"y":-90},{"panel":18,"x":107,"y":-10},{"panel":18,"x":115,"y":16},{"panel":18,"x":181,"y":-134},
{"panel":19,"x":-166,"y":96},{"panel":19,"x":-136,"y":-2},{"panel":19,"x":-119,"y":-8},{"panel":19,"x":-116,"y":36},{"panel":19,"x":-86,"y":36},{"panel":19,"x":-81,"y":-89},{"panel":19,"x":-80,"y":28},{"panel":19,"x":-76,"y":30},{"panel":19,"x":-73,"y":56},{"panel":19,"x":-64,"y":-10},{"panel":19,"x":-62,"y":-14},{"panel":19,"x":-58,"y":33},{"panel":19,"x":-58,"y":-36},{"panel":19,"x":-48,"y":-27},{"panel":19,"x":-44,"y":-42},{"panel":19,"x":-41,"y":-32},{"panel":19,"x":-40,"y":46},{"panel":19,"x":-36,"y":40},{"panel":19,"x":-28,"y":28},{"panel":19,"x":-26,"y":-12},{"panel":19,"x":-24,"y":-102},{"panel":19,"x":-22,"y":-60},{"panel":19,"x":-20,"y":48},{"panel":19,"x":-18,"y":15},{"panel":19,"x":-12,"y":-2},{"panel":19,"x":-8,"y":-30},{"panel":19,"x":-6,"y":86},{"panel":19,"x":-4,"y":82},{"panel":19,"x":-1,"y":3},{"panel":19,"x":0,"y":48},{"panel":19,"x":8,"y":0},{"panel":19,"x":11,"y":130},{"panel":19,"x":12,"y":28},{"panel":19,"x":14,"y":-76},{"panel":19,"x":14,"y":-94},{"panel":19,"x":16,"y":-27},{"panel":19,"x":20,"y":-44},{"panel":19,"x":22,"y":14},{"panel":19,"x":24,"y":-7},{"panel":19,"x":26,"y":-60},{"panel":19,"x":27,"y":-97},{"panel":19,"x":29,"y":-32},{"panel":19,"x":32,"y":-2},{"panel":19,"x":36,"y":30},{"panel":19,"x":38,"y":53},{"panel":19,"x":40,"y":50},{"panel":19,"x":42,"y":-93},{"panel":19,"x":44,"y":13},{"panel":19,"x":48,"y":-24},{"panel":19,"x":60,"y":10},{"panel":19,"x":72,"y":63},{"panel":19,"x":80,"y":0},{"panel":19,"x":82,"y":-70},{"panel":19,"x":84,"y":96},{"panel":19,"x":86,"y":-44},{"panel":19,"x":56,"y":110},{"panel":19,"x":106,"y":120},{"panel":19,"x":108,"y":-44},{"panel":19,"x":124,"y":-27},{"panel":19,"x":136,"y":13},
{"panel":20,"x":-135,"y":-20},{"panel":20,"x":-129,"y":-2},{"panel":20,"x":-115,"y":10},{"panel":20,"x":-111,"y":-65},{"panel":20,"x":-84,"y":-82},{"panel":20,"x":-75,"y":-39},{"panel":20,"x":-71,"y":36},{"panel":20,"x":-63,"y":50},{"panel":20,"x":-57,"y":-14},{"panel":20,"x":-53,"y":23},{"panel":20,"x":-50,"y":-8},{"panel":20,"x":-47,"y":6},{"panel":20,"x":-43,"y":-24},{"panel":20,"x":-40,"y":56},{"panel":20,"x":-39,"y":36},{"panel":20,"x":-37,"y":18},{"panel":20,"x":-35,"y":-24},{"panel":20,"x":-33,"y":-46},{"panel":20,"x":-29,"y":20},{"panel":20,"x":-27,"y":72},{"panel":20,"x":-23,"y":0},{"panel":20,"x":-19,"y":-60},{"panel":20,"x":-17,"y":26},{"panel":20,"x":-13,"y":-4},{"panel":20,"x":-11,"y":-22},{"panel":20,"x":-7,"y":16},{"panel":20,"x":-3,"y":8},{"panel":20,"x":-1,"y":95},{"panel":20,"x":1,"y":-20},{"panel":20,"x":3,"y":20},{"panel":20,"x":7,"y":-32},{"panel":20,"x":9,"y":-70},{"panel":20,"x":11,"y":56},{"panel":20,"x":13,"y":-6},{"panel":20,"x":15,"y":-54},{"panel":20,"x":17,"y":-2},{"panel":20,"x":20,"y":8},{"panel":20,"x":23,"y":-30},{"panel":20,"x":25,"y":-92},{"panel":20,"x":27,"y":-20},{"panel":20,"x":31,"y":-12},{"panel":20,"x":35,"y":18},{"panel":20,"x":39,"y":-2},{"panel":20,"x":47,"y":42},{"panel":20,"x":53,"y":0},{"panel":20,"x":61,"y":26},{"panel":20,"x":65,"y":-20},{"panel":20,"x":70,"y":43},{"panel":20,"x":75,"y":46},{"panel":20,"x":80,"y":36},{"panel":20,"x":83,"y":-30},{"panel":20,"x":87,"y":-14},{"panel":20,"x":105,"y":-2},{"panel":20,"x":127,"y":66},{"panel":20,"x":140,"y":-22},
{"panel":1,"x":-185,"y":-17,"fit":1},{"panel":1,"x":137,"y":11,"fit":1},
{"panel":2,"x":-140,"y":8,"fit":1},{"panel":2,"x":154,"y":-11,"fit":1},
{"panel":3,"x":-169,"y":18,"fit":1},{"panel":3,"x":141,"y":-18,"fit":1},
{"panel":4,"x":-161,"y":-4,"fit":1},{"panel":4,"x":144,"y":2,"fit":1},
{"panel":5,"x":-160,"y":-20,"fit":1},{"panel":5,"x":185,"y":20,"fit":1},
{"panel":6,"x":-159,"y":6,"fit":1},{"panel":6,"x":105,"y":-1,"fit":1},
{"panel":7,"x":-131,"y":-18,"fit":1},{"panel":7,"x":127,"y":22,"fit":1},
{"panel":8,"x":-175,"y":-52,"fit":1},{"panel":8,"x":157,"y":51,"fit":1},
{"panel":9,"x":-127,"y":1,"fit":1},{"panel":9,"x":149,"y":2,"fit":1},
{"panel":10,"x":-170,"y":1,"fit":1},{"panel":10,"x":113,"y":2,"fit":1},
{"panel":11,"x":-190,"y":14,"fit":1},{"panel":11,"x":155,"y":-10,"fit":1},
{"panel":12,"x":-146,"y":11,"fit":1},{"panel":12,"x":156,"y":-9,"fit":1},
{"panel":13,"x":-175,"y":-4,"fit":1},{"panel":13,"x":177,"y":7,"fit":1},
{"panel":14,"x":-202,"y":23,"fit":1},{"panel":14,"x":144,"y":-14,"fit":1},
{"panel":15,"x":-163,"y":-82,"fit":1},{"panel":15,"x":147,"y":77,"fit":1},
{"panel":16,"x":-153,"y":10,"fit":1},{"panel":16,"x":117,"y":-5,"fit":1},
{"panel":17,"x":-182,"y":-11,"fit":1},{"panel":17,"x":129,"y":10,"fit":1},
{"panel":18,"x":-165,"y":30,"fit":1},{"panel":18,"x":181,"y":-30,"fit":1},
{"panel":19,"x":-166,"y":8,"fit":1},{"panel":19,"x":136,"y":-3,"fit":1},
{"panel":20,"x":-133,"y":-8,"fit":1},{"panel":20,"x":140,"y":10,"fit":1}
]
},
"data": {"name": "pts"},
"columns": 5,
"spacing": {"row": 5.5, "column": 5},
"concat": [
{"transform":[{"filter":"datum.panel==1"}],"width":142,"height":179,"resolve":{"axis":{"x":"independent","y":"independent"}},"layer":[
{"transform":[{"filter":"datum.fit!=1"}],"mark":"circle","encoding":{"x":{"field":"x","type":"quantitative","scale":{"domain":[-224.5,202],"nice":false,"zero":false},"axis":{"values":[-171,-57,57,171],"gridColor":"#F2F2F2","gridWidth":0.8,"title":null}},"y":{"field":"y","type":"quantitative","scale":{"domain":[-250,287],"nice":false,"zero":false},"axis":{"values":[168,56,-56,-168],"gridColor":"#F2F2F2","gridWidth":0.8,"title":null}}}},
{"transform":[{"filter":"datum.fit==1"}],"mark":"line","encoding":{"x":{"field":"x","type":"quantitative","axis":{"values":[-114,0,114],"gridColor":"#FFFFFF","gridWidth":1.2,"title":null}},"y":{"field":"y","type":"quantitative","axis":{"values":[112,0,-112,-224],"gridColor":"#FFFFFF","gridWidth":1.2,"title":null}}}},
{"data":{"values":[{"panel":1,"label":"1"}]},"mark":"rect","encoding":{"x":{"datum":-224.5,"type":"quantitative","axis":null},"x2":{"datum":202},"y":{"datum":220,"type":"quantitative","axis":null},"y2":{"datum":287}}},
{"data":{"values":[{"panel":1,"label":"1"}]},"mark":"text","encoding":{"x":{"datum":-11.25,"type":"quantitative","axis":null},"y":{"datum":253.5,"type":"quantitative","axis":null},"text":{"field":"label","type":"nominal"}}}]},
{"transform":[{"filter":"datum.panel==2"}],"width":142,"height":179,"resolve":{"axis":{"x":"independent","y":"independent"}},"layer":[
{"transform":[{"filter":"datum.fit!=1"}],"mark":"circle","encoding":{"x":{"field":"x","type":"quantitative","scale":{"domain":[-224.5,202],"nice":false,"zero":false},"axis":{"values":[-171,-57,57,171],"gridColor":"#F2F2F2","gridWidth":0.8,"title":null}},"y":{"field":"y","type":"quantitative","scale":{"domain":[-250,287],"nice":false,"zero":false},"axis":{"values":[168,56,-56,-168],"gridColor":"#F2F2F2","gridWidth":0.8,"title":null}}}},
{"transform":[{"filter":"datum.fit==1"}],"mark":"line","encoding":{"x":{"field":"x","type":"quantitative","axis":{"values":[-114,0,114],"gridColor":"#FFFFFF","gridWidth":1.2,"title":null}},"y":{"field":"y","type":"quantitative","axis":{"values":[112,0,-112,-224],"gridColor":"#FFFFFF","gridWidth":1.2,"title":null}}}},
{"data":{"values":[{"panel":2,"label":"2"}]},"mark":"rect","encoding":{"x":{"datum":-224.5,"type":"quantitative","axis":null},"x2":{"datum":202},"y":{"datum":220,"type":"quantitative","axis":null},"y2":{"datum":287}}},
{"data":{"values":[{"panel":2,"label":"2"}]},"mark":"text","encoding":{"x":{"datum":-11.25,"type":"quantitative","axis":null},"y":{"datum":253.5,"type":"quantitative","axis":null},"text":{"field":"label","type":"nominal"}}}]},
{"transform":[{"filter":"datum.panel==3"}],"width":142,"height":179,"resolve":{"axis":{"x":"independent","y":"independent"}},"layer":[
{"transform":[{"filter":"datum.fit!=1"}],"mark":"circle","encoding":{"x":{"field":"x","type":"quantitative","scale":{"domain":[-224.5,202],"nice":false,"zero":false},"axis":{"values":[-171,-57,57,171],"gridColor":"#F2F2F2","gridWidth":0.8,"title":null}},"y":{"field":"y","type":"quantitative","scale":{"domain":[-250,287],"nice":false,"zero":false},"axis":{"values":[168,56,-56,-168],"gridColor":"#F2F2F2","gridWidth":0.8,"title":null}}}},
{"transform":[{"filter":"datum.fit==1"}],"mark":"line","encoding":{"x":{"field":"x","type":"quantitative","axis":{"values":[-114,0,114],"gridColor":"#FFFFFF","gridWidth":1.2,"title":null}},"y":{"field":"y","type":"quantitative","axis":{"values":[112,0,-112,-224],"gridColor":"#FFFFFF","gridWidth":1.2,"title":null}}}},
{"data":{"values":[{"panel":3,"label":"3"}]},"mark":"rect","encoding":{"x":{"datum":-224.5,"type":"quantitative","axis":null},"x2":{"datum":202},"y":{"datum":220,"type":"quantitative","axis":null},"y2":{"datum":287}}},
{"data":{"values":[{"panel":3,"label":"3"}]},"mark":"text","encoding":{"x":{"datum":-11.25,"type":"quantitative","axis":null},"y":{"datum":253.5,"type":"quantitative","axis":null},"text":{"field":"label","type":"nominal"}}}]},
{"transform":[{"filter":"datum.panel==4"}],"width":142,"height":179,"resolve":{"axis":{"x":"independent","y":"independent"}},"layer":[
{"transform":[{"filter":"datum.fit!=1"}],"mark":"circle","encoding":{"x":{"field":"x","type":"quantitative","scale":{"domain":[-224.5,202],"nice":false,"zero":false},"axis":{"values":[-171,-57,57,171],"gridColor":"#F2F2F2","gridWidth":0.8,"title":null}},"y":{"field":"y","type":"quantitative","scale":{"domain":[-250,287],"nice":false,"zero":false},"axis":{"values":[168,56,-56,-168],"gridColor":"#F2F2F2","gridWidth":0.8,"title":null}}}},
{"transform":[{"filter":"datum.fit==1"}],"mark":"line","encoding":{"x":{"field":"x","type":"quantitative","axis":{"values":[-114,0,114],"gridColor":"#FFFFFF","gridWidth":1.2,"title":null}},"y":{"field":"y","type":"quantitative","axis":{"values":[112,0,-112,-224],"gridColor":"#FFFFFF","gridWidth":1.2,"title":null}}}},
{"data":{"values":[{"panel":4,"label":"4"}]},"mark":"rect","encoding":{"x":{"datum":-224.5,"type":"quantitative","axis":null},"x2":{"datum":202},"y":{"datum":220,"type":"quantitative","axis":null},"y2":{"datum":287}}},
{"data":{"values":[{"panel":4,"label":"4"}]},"mark":"text","encoding":{"x":{"datum":-11.25,"type":"quantitative","axis":null},"y":{"datum":253.5,"type":"quantitative","axis":null},"text":{"field":"label","type":"nominal"}}}]},
{"transform":[{"filter":"datum.panel==5"}],"width":142,"height":179,"resolve":{"axis":{"x":"independent","y":"independent"}},"layer":[
{"transform":[{"filter":"datum.fit!=1"}],"mark":"circle","encoding":{"x":{"field":"x","type":"quantitative","scale":{"domain":[-224.5,202],"nice":false,"zero":false},"axis":{"values":[-171,-57,57,171],"gridColor":"#F2F2F2","gridWidth":0.8,"title":null}},"y":{"field":"y","type":"quantitative","scale":{"domain":[-250,287],"nice":false,"zero":false},"axis":{"values":[168,56,-56,-168],"gridColor":"#F2F2F2","gridWidth":0.8,"title":null}}}},
{"transform":[{"filter":"datum.fit==1"}],"mark":"line","encoding":{"x":{"field":"x","type":"quantitative","axis":{"values":[-114,0,114],"gridColor":"#FFFFFF","gridWidth":1.2,"title":null}},"y":{"field":"y","type":"quantitative","axis":{"values":[112,0,-112,-224],"gridColor":"#FFFFFF","gridWidth":1.2,"title":null}}}},
{"data":{"values":[{"panel":5,"label":"5"}]},"mark":"rect","encoding":{"x":{"datum":-224.5,"type":"quantitative","axis":null},"x2":{"datum":202},"y":{"datum":220,"type":"quantitative","axis":null},"y2":{"datum":287}}},
{"data":{"values":[{"panel":5,"label":"5"}]},"mark":"text","encoding":{"x":{"datum":-11.25,"type":"quantitative","axis":null},"y":{"datum":253.5,"type":"quantitative","axis":null},"text":{"field":"label","type":"nominal"}}}]},
{"transform":[{"filter":"datum.panel==6"}],"width":142,"height":179,"resolve":{"axis":{"x":"independent","y":"independent"}},"layer":[
{"transform":[{"filter":"datum.fit!=1"}],"mark":"circle","encoding":{"x":{"field":"x","type":"quantitative","scale":{"domain":[-224.5,202],"nice":false,"zero":false},"axis":{"values":[-171,-57,57,171],"gridColor":"#F2F2F2","gridWidth":0.8,"title":null}},"y":{"field":"y","type":"quantitative","scale":{"domain":[-250,287],"nice":false,"zero":false},"axis":{"values":[168,56,-56,-168],"gridColor":"#F2F2F2","gridWidth":0.8,"title":null}}}},
{"transform":[{"filter":"datum.fit==1"}],"mark":"line","encoding":{"x":{"field":"x","type":"quantitative","axis":{"values":[-114,0,114],"gridColor":"#FFFFFF","gridWidth":1.2,"title":null}},"y":{"field":"y","type":"quantitative","axis":{"values":[112,0,-112,-224],"gridColor":"#FFFFFF","gridWidth":1.2,"title":null}}}},
{"data":{"values":[{"panel":6,"label":"6"}]},"mark":"rect","encoding":{"x":{"datum":-224.5,"type":"quantitative","axis":null},"x2":{"datum":202},"y":{"datum":220,"type":"quantitative","axis":null},"y2":{"datum":287}}},
{"data":{"values":[{"panel":6,"label":"6"}]},"mark":"text","encoding":{"x":{"datum":-11.25,"type":"quantitative","axis":null},"y":{"datum":253.5,"type":"quantitative","axis":null},"text":{"field":"label","type":"nominal"}}}]},
{"transform":[{"filter":"datum.panel==7"}],"width":142,"height":179,"resolve":{"axis":{"x":"independent","y":"independent"}},"layer":[
{"transform":[{"filter":"datum.fit!=1"}],"mark":"circle","encoding":{"x":{"field":"x","type":"quantitative","scale":{"domain":[-224.5,202],"nice":false,"zero":false},"axis":{"values":[-171,-57,57,171],"gridColor":"#F2F2F2","gridWidth":0.8,"title":null}},"y":{"field":"y","type":"quantitative","scale":{"domain":[-250,287],"nice":false,"zero":false},"axis":{"values":[168,56,-56,-168],"gridColor":"#F2F2F2","gridWidth":0.8,"title":null}}}},
{"transform":[{"filter":"datum.fit==1"}],"mark":"line","encoding":{"x":{"field":"x","type":"quantitative","axis":{"values":[-114,0,114],"gridColor":"#FFFFFF","gridWidth":1.2,"title":null}},"y":{"field":"y","type":"quantitative","axis":{"values":[112,0,-112,-224],"gridColor":"#FFFFFF","gridWidth":1.2,"title":null}}}},
{"data":{"values":[{"panel":7,"label":"7"}]},"mark":"rect","encoding":{"x":{"datum":-224.5,"type":"quantitative","axis":null},"x2":{"datum":202},"y":{"datum":220,"type":"quantitative","axis":null},"y2":{"datum":287}}},
{"data":{"values":[{"panel":7,"label":"7"}]},"mark":"text","encoding":{"x":{"datum":-11.25,"type":"quantitative","axis":null},"y":{"datum":253.5,"type":"quantitative","axis":null},"text":{"field":"label","type":"nominal"}}}]},
{"transform":[{"filter":"datum.panel==8"}],"width":142,"height":179,"resolve":{"axis":{"x":"independent","y":"independent"}},"layer":[
{"transform":[{"filter":"datum.fit!=1"}],"mark":"circle","encoding":{"x":{"field":"x","type":"quantitative","scale":{"domain":[-224.5,202],"nice":false,"zero":false},"axis":{"values":[-171,-57,57,171],"gridColor":"#F2F2F2","gridWidth":0.8,"title":null}},"y":{"field":"y","type":"quantitative","scale":{"domain":[-250,287],"nice":false,"zero":false},"axis":{"values":[168,56,-56,-168],"gridColor":"#F2F2F2","gridWidth":0.8,"title":null}}}},
{"transform":[{"filter":"datum.fit==1"}],"mark":"line","encoding":{"x":{"field":"x","type":"quantitative","axis":{"values":[-114,0,114],"gridColor":"#FFFFFF","gridWidth":1.2,"title":null}},"y":{"field":"y","type":"quantitative","axis":{"values":[112,0,-112,-224],"gridColor":"#FFFFFF","gridWidth":1.2,"title":null}}}},
{"data":{"values":[{"panel":8,"label":"8"}]},"mark":"rect","encoding":{"x":{"datum":-224.5,"type":"quantitative","axis":null},"x2":{"datum":202},"y":{"datum":220,"type":"quantitative","axis":null},"y2":{"datum":287}}},
{"data":{"values":[{"panel":8,"label":"8"}]},"mark":"text","encoding":{"x":{"datum":-11.25,"type":"quantitative","axis":null},"y":{"datum":253.5,"type":"quantitative","axis":null},"text":{"field":"label","type":"nominal"}}}]},
{"transform":[{"filter":"datum.panel==9"}],"width":142,"height":179,"resolve":{"axis":{"x":"independent","y":"independent"}},"layer":[
{"transform":[{"filter":"datum.fit!=1"}],"mark":"circle","encoding":{"x":{"field":"x","type":"quantitative","scale":{"domain":[-224.5,202],"nice":false,"zero":false},"axis":{"values":[-171,-57,57,171],"gridColor":"#F2F2F2","gridWidth":0.8,"title":null}},"y":{"field":"y","type":"quantitative","scale":{"domain":[-250,287],"nice":false,"zero":false},"axis":{"values":[168,56,-56,-168],"gridColor":"#F2F2F2","gridWidth":0.8,"title":null}}}},
{"transform":[{"filter":"datum.fit==1"}],"mark":"line","encoding":{"x":{"field":"x","type":"quantitative","axis":{"values":[-114,0,114],"gridColor":"#FFFFFF","gridWidth":1.2,"title":null}},"y":{"field":"y","type":"quantitative","axis":{"values":[112,0,-112,-224],"gridColor":"#FFFFFF","gridWidth":1.2,"title":null}}}},
{"data":{"values":[{"panel":9,"label":"9"}]},"mark":"rect","encoding":{"x":{"datum":-224.5,"type":"quantitative","axis":null},"x2":{"datum":202},"y":{"datum":220,"type":"quantitative","axis":null},"y2":{"datum":287}}},
{"data":{"values":[{"panel":9,"label":"9"}]},"mark":"text","encoding":{"x":{"datum":-11.25,"type":"quantitative","axis":null},"y":{"datum":253.5,"type":"quantitative","axis":null},"text":{"field":"label","type":"nominal"}}}]},
{"transform":[{"filter":"datum.panel==10"}],"width":142,"height":179,"resolve":{"axis":{"x":"independent","y":"independent"}},"layer":[
{"transform":[{"filter":"datum.fit!=1"}],"mark":"circle","encoding":{"x":{"field":"x","type":"quantitative","scale":{"domain":[-224.5,202],"nice":false,"zero":false},"axis":{"values":[-171,-57,57,171],"gridColor":"#F2F2F2","gridWidth":0.8,"title":null}},"y":{"field":"y","type":"quantitative","scale":{"domain":[-250,287],"nice":false,"zero":false},"axis":{"values":[168,56,-56,-168],"gridColor":"#F2F2F2","gridWidth":0.8,"title":null}}}},
{"transform":[{"filter":"datum.fit==1"}],"mark":"line","encoding":{"x":{"field":"x","type":"quantitative","axis":{"values":[-114,0,114],"gridColor":"#FFFFFF","gridWidth":1.2,"title":null}},"y":{"field":"y","type":"quantitative","axis":{"values":[112,0,-112,-224],"gridColor":"#FFFFFF","gridWidth":1.2,"title":null}}}},
{"data":{"values":[{"panel":10,"label":"10"}]},"mark":"rect","encoding":{"x":{"datum":-224.5,"type":"quantitative","axis":null},"x2":{"datum":202},"y":{"datum":220,"type":"quantitative","axis":null},"y2":{"datum":287}}},
{"data":{"values":[{"panel":10,"label":"10"}]},"mark":"text","encoding":{"x":{"datum":-11.25,"type":"quantitative","axis":null},"y":{"datum":253.5,"type":"quantitative","axis":null},"text":{"field":"label","type":"nominal"}}}]},
{"transform":[{"filter":"datum.panel==11"}],"width":142,"height":179,"resolve":{"axis":{"x":"independent","y":"independent"}},"layer":[
{"transform":[{"filter":"datum.fit!=1"}],"mark":"circle","encoding":{"x":{"field":"x","type":"quantitative","scale":{"domain":[-224.5,202],"nice":false,"zero":false},"axis":{"values":[-171,-57,57,171],"gridColor":"#F2F2F2","gridWidth":0.8,"title":null}},"y":{"field":"y","type":"quantitative","scale":{"domain":[-250,287],"nice":false,"zero":false},"axis":{"values":[168,56,-56,-168],"gridColor":"#F2F2F2","gridWidth":0.8,"title":null}}}},
{"transform":[{"filter":"datum.fit==1"}],"mark":"line","encoding":{"x":{"field":"x","type":"quantitative","axis":{"values":[-114,0,114],"gridColor":"#FFFFFF","gridWidth":1.2,"title":null}},"y":{"field":"y","type":"quantitative","axis":{"values":[112,0,-112,-224],"gridColor":"#FFFFFF","gridWidth":1.2,"title":null}}}},
{"data":{"values":[{"panel":11,"label":"11"}]},"mark":"rect","encoding":{"x":{"datum":-224.5,"type":"quantitative","axis":null},"x2":{"datum":202},"y":{"datum":220,"type":"quantitative","axis":null},"y2":{"datum":287}}},
{"data":{"values":[{"panel":11,"label":"11"}]},"mark":"text","encoding":{"x":{"datum":-11.25,"type":"quantitative","axis":null},"y":{"datum":253.5,"type":"quantitative","axis":null},"text":{"field":"label","type":"nominal"}}}]},
{"transform":[{"filter":"datum.panel==12"}],"width":142,"height":179,"resolve":{"axis":{"x":"independent","y":"independent"}},"layer":[
{"transform":[{"filter":"datum.fit!=1"}],"mark":"circle","encoding":{"x":{"field":"x","type":"quantitative","scale":{"domain":[-224.5,202],"nice":false,"zero":false},"axis":{"values":[-171,-57,57,171],"gridColor":"#F2F2F2","gridWidth":0.8,"title":null}},"y":{"field":"y","type":"quantitative","scale":{"domain":[-250,287],"nice":false,"zero":false},"axis":{"values":[168,56,-56,-168],"gridColor":"#F2F2F2","gridWidth":0.8,"title":null}}}},
{"transform":[{"filter":"datum.fit==1"}],"mark":"line","encoding":{"x":{"field":"x","type":"quantitative","axis":{"values":[-114,0,114],"gridColor":"#FFFFFF","gridWidth":1.2,"title":null}},"y":{"field":"y","type":"quantitative","axis":{"values":[112,0,-112,-224],"gridColor":"#FFFFFF","gridWidth":1.2,"title":null}}}},
{"data":{"values":[{"panel":12,"label":"12"}]},"mark":"rect","encoding":{"x":{"datum":-224.5,"type":"quantitative","axis":null},"x2":{"datum":202},"y":{"datum":220,"type":"quantitative","axis":null},"y2":{"datum":287}}},
{"data":{"values":[{"panel":12,"label":"12"}]},"mark":"text","encoding":{"x":{"datum":-11.25,"type":"quantitative","axis":null},"y":{"datum":253.5,"type":"quantitative","axis":null},"text":{"field":"label","type":"nominal"}}}]},
{"transform":[{"filter":"datum.panel==13"}],"width":142,"height":179,"resolve":{"axis":{"x":"independent","y":"independent"}},"layer":[
{"transform":[{"filter":"datum.fit!=1"}],"mark":"circle","encoding":{"x":{"field":"x","type":"quantitative","scale":{"domain":[-224.5,202],"nice":false,"zero":false},"axis":{"values":[-171,-57,57,171],"gridColor":"#F2F2F2","gridWidth":0.8,"title":null}},"y":{"field":"y","type":"quantitative","scale":{"domain":[-250,287],"nice":false,"zero":false},"axis":{"values":[168,56,-56,-168],"gridColor":"#F2F2F2","gridWidth":0.8,"title":null}}}},
{"transform":[{"filter":"datum.fit==1"}],"mark":"line","encoding":{"x":{"field":"x","type":"quantitative","axis":{"values":[-114,0,114],"gridColor":"#FFFFFF","gridWidth":1.2,"title":null}},"y":{"field":"y","type":"quantitative","axis":{"values":[112,0,-112,-224],"gridColor":"#FFFFFF","gridWidth":1.2,"title":null}}}},
{"data":{"values":[{"panel":13,"label":"13"}]},"mark":"rect","encoding":{"x":{"datum":-224.5,"type":"quantitative","axis":null},"x2":{"datum":202},"y":{"datum":220,"type":"quantitative","axis":null},"y2":{"datum":287}}},
{"data":{"values":[{"panel":13,"label":"13"}]},"mark":"text","encoding":{"x":{"datum":-11.25,"type":"quantitative","axis":null},"y":{"datum":253.5,"type":"quantitative","axis":null},"text":{"field":"label","type":"nominal"}}}]},
{"transform":[{"filter":"datum.panel==14"}],"width":142,"height":179,"resolve":{"axis":{"x":"independent","y":"independent"}},"layer":[
{"transform":[{"filter":"datum.fit!=1"}],"mark":"circle","encoding":{"x":{"field":"x","type":"quantitative","scale":{"domain":[-224.5,202],"nice":false,"zero":false},"axis":{"values":[-171,-57,57,171],"gridColor":"#F2F2F2","gridWidth":0.8,"title":null}},"y":{"field":"y","type":"quantitative","scale":{"domain":[-250,287],"nice":false,"zero":false},"axis":{"values":[168,56,-56,-168],"gridColor":"#F2F2F2","gridWidth":0.8,"title":null}}}},
{"transform":[{"filter":"datum.fit==1"}],"mark":"line","encoding":{"x":{"field":"x","type":"quantitative","axis":{"values":[-114,0,114],"gridColor":"#FFFFFF","gridWidth":1.2,"title":null}},"y":{"field":"y","type":"quantitative","axis":{"values":[112,0,-112,-224],"gridColor":"#FFFFFF","gridWidth":1.2,"title":null}}}},
{"data":{"values":[{"panel":14,"label":"14"}]},"mark":"rect","encoding":{"x":{"datum":-224.5,"type":"quantitative","axis":null},"x2":{"datum":202},"y":{"datum":220,"type":"quantitative","axis":null},"y2":{"datum":287}}},
{"data":{"values":[{"panel":14,"label":"14"}]},"mark":"text","encoding":{"x":{"datum":-11.25,"type":"quantitative","axis":null},"y":{"datum":253.5,"type":"quantitative","axis":null},"text":{"field":"label","type":"nominal"}}}]},
{"transform":[{"filter":"datum.panel==15"}],"width":142,"height":179,"resolve":{"axis":{"x":"independent","y":"independent"}},"layer":[
{"transform":[{"filter":"datum.fit!=1"}],"mark":"circle","encoding":{"x":{"field":"x","type":"quantitative","scale":{"domain":[-224.5,202],"nice":false,"zero":false},"axis":{"values":[-171,-57,57,171],"gridColor":"#F2F2F2","gridWidth":0.8,"title":null}},"y":{"field":"y","type":"quantitative","scale":{"domain":[-250,287],"nice":false,"zero":false},"axis":{"values":[168,56,-56,-168],"gridColor":"#F2F2F2","gridWidth":0.8,"title":null}}}},
{"transform":[{"filter":"datum.fit==1"}],"mark":"line","encoding":{"x":{"field":"x","type":"quantitative","axis":{"values":[-114,0,114],"gridColor":"#FFFFFF","gridWidth":1.2,"title":null}},"y":{"field":"y","type":"quantitative","axis":{"values":[112,0,-112,-224],"gridColor":"#FFFFFF","gridWidth":1.2,"title":null}}}},
{"data":{"values":[{"panel":15,"label":"15"}]},"mark":"rect","encoding":{"x":{"datum":-224.5,"type":"quantitative","axis":null},"x2":{"datum":202},"y":{"datum":220,"type":"quantitative","axis":null},"y2":{"datum":287}}},
{"data":{"values":[{"panel":15,"label":"15"}]},"mark":"text","encoding":{"x":{"datum":-11.25,"type":"quantitative","axis":null},"y":{"datum":253.5,"type":"quantitative","axis":null},"text":{"field":"label","type":"nominal"}}}]},
{"transform":[{"filter":"datum.panel==16"}],"width":142,"height":179,"resolve":{"axis":{"x":"independent","y":"independent"}},"layer":[
{"transform":[{"filter":"datum.fit!=1"}],"mark":"circle","encoding":{"x":{"field":"x","type":"quantitative","scale":{"domain":[-224.5,202],"nice":false,"zero":false},"axis":{"values":[-171,-57,57,171],"gridColor":"#F2F2F2","gridWidth":0.8,"title":null}},"y":{"field":"y","type":"quantitative","scale":{"domain":[-250,287],"nice":false,"zero":false},"axis":{"values":[168,56,-56,-168],"gridColor":"#F2F2F2","gridWidth":0.8,"title":null}}}},
{"transform":[{"filter":"datum.fit==1"}],"mark":"line","encoding":{"x":{"field":"x","type":"quantitative","axis":{"values":[-114,0,114],"gridColor":"#FFFFFF","gridWidth":1.2,"title":null}},"y":{"field":"y","type":"quantitative","axis":{"values":[112,0,-112,-224],"gridColor":"#FFFFFF","gridWidth":1.2,"title":null}}}},
{"data":{"values":[{"panel":16,"label":"16"}]},"mark":"rect","encoding":{"x":{"datum":-224.5,"type":"quantitative","axis":null},"x2":{"datum":202},"y":{"datum":220,"type":"quantitative","axis":null},"y2":{"datum":287}}},
{"data":{"values":[{"panel":16,"label":"16"}]},"mark":"text","encoding":{"x":{"datum":-11.25,"type":"quantitative","axis":null},"y":{"datum":253.5,"type":"quantitative","axis":null},"text":{"field":"label","type":"nominal"}}}]},
{"transform":[{"filter":"datum.panel==17"}],"width":142,"height":179,"resolve":{"axis":{"x":"independent","y":"independent"}},"layer":[
{"transform":[{"filter":"datum.fit!=1"}],"mark":"circle","encoding":{"x":{"field":"x","type":"quantitative","scale":{"domain":[-224.5,202],"nice":false,"zero":false},"axis":{"values":[-171,-57,57,171],"gridColor":"#F2F2F2","gridWidth":0.8,"title":null}},"y":{"field":"y","type":"quantitative","scale":{"domain":[-250,287],"nice":false,"zero":false},"axis":{"values":[168,56,-56,-168],"gridColor":"#F2F2F2","gridWidth":0.8,"title":null}}}},
{"transform":[{"filter":"datum.fit==1"}],"mark":"line","encoding":{"x":{"field":"x","type":"quantitative","axis":{"values":[-114,0,114],"gridColor":"#FFFFFF","gridWidth":1.2,"title":null}},"y":{"field":"y","type":"quantitative","axis":{"values":[112,0,-112,-224],"gridColor":"#FFFFFF","gridWidth":1.2,"title":null}}}},
{"data":{"values":[{"panel":17,"label":"17"}]},"mark":"rect","encoding":{"x":{"datum":-224.5,"type":"quantitative","axis":null},"x2":{"datum":202},"y":{"datum":220,"type":"quantitative","axis":null},"y2":{"datum":287}}},
{"data":{"values":[{"panel":17,"label":"17"}]},"mark":"text","encoding":{"x":{"datum":-11.25,"type":"quantitative","axis":null},"y":{"datum":253.5,"type":"quantitative","axis":null},"text":{"field":"label","type":"nominal"}}}]},
{"transform":[{"filter":"datum.panel==18"}],"width":142,"height":179,"resolve":{"axis":{"x":"independent","y":"independent"}},"layer":[
{"transform":[{"filter":"datum.fit!=1"}],"mark":"circle","encoding":{"x":{"field":"x","type":"quantitative","scale":{"domain":[-224.5,202],"nice":false,"zero":false},"axis":{"values":[-171,-57,57,171],"gridColor":"#F2F2F2","gridWidth":0.8,"title":null}},"y":{"field":"y","type":"quantitative","scale":{"domain":[-250,287],"nice":false,"zero":false},"axis":{"values":[168,56,-56,-168],"gridColor":"#F2F2F2","gridWidth":0.8,"title":null}}}},
{"transform":[{"filter":"datum.fit==1"}],"mark":"line","encoding":{"x":{"field":"x","type":"quantitative","axis":{"values":[-114,0,114],"gridColor":"#FFFFFF","gridWidth":1.2,"title":null}},"y":{"field":"y","type":"quantitative","axis":{"values":[112,0,-112,-224],"gridColor":"#FFFFFF","gridWidth":1.2,"title":null}}}},
{"data":{"values":[{"panel":18,"label":"18"}]},"mark":"rect","encoding":{"x":{"datum":-224.5,"type":"quantitative","axis":null},"x2":{"datum":202},"y":{"datum":220,"type":"quantitative","axis":null},"y2":{"datum":287}}},
{"data":{"values":[{"panel":18,"label":"18"}]},"mark":"text","encoding":{"x":{"datum":-11.25,"type":"quantitative","axis":null},"y":{"datum":253.5,"type":"quantitative","axis":null},"text":{"field":"label","type":"nominal"}}}]},
{"transform":[{"filter":"datum.panel==19"}],"width":142,"height":179,"resolve":{"axis":{"x":"independent","y":"independent"}},"layer":[
{"transform":[{"filter":"datum.fit!=1"}],"mark":"circle","encoding":{"x":{"field":"x","type":"quantitative","scale":{"domain":[-224.5,202],"nice":false,"zero":false},"axis":{"values":[-171,-57,57,171],"gridColor":"#F2F2F2","gridWidth":0.8,"title":null}},"y":{"field":"y","type":"quantitative","scale":{"domain":[-250,287],"nice":false,"zero":false},"axis":{"values":[168,56,-56,-168],"gridColor":"#F2F2F2","gridWidth":0.8,"title":null}}}},
{"transform":[{"filter":"datum.fit==1"}],"mark":"line","encoding":{"x":{"field":"x","type":"quantitative","axis":{"values":[-114,0,114],"gridColor":"#FFFFFF","gridWidth":1.2,"title":null}},"y":{"field":"y","type":"quantitative","axis":{"values":[112,0,-112,-224],"gridColor":"#FFFFFF","gridWidth":1.2,"title":null}}}},
{"data":{"values":[{"panel":19,"label":"19"}]},"mark":"rect","encoding":{"x":{"datum":-224.5,"type":"quantitative","axis":null},"x2":{"datum":202},"y":{"datum":220,"type":"quantitative","axis":null},"y2":{"datum":287}}},
{"data":{"values":[{"panel":19,"label":"19"}]},"mark":"text","encoding":{"x":{"datum":-11.25,"type":"quantitative","axis":null},"y":{"datum":253.5,"type":"quantitative","axis":null},"text":{"field":"label","type":"nominal"}}}]},
{"transform":[{"filter":"datum.panel==20"}],"width":142,"height":179,"resolve":{"axis":{"x":"independent","y":"independent"}},"layer":[
{"transform":[{"filter":"datum.fit!=1"}],"mark":"circle","encoding":{"x":{"field":"x","type":"quantitative","scale":{"domain":[-224.5,202],"nice":false,"zero":false},"axis":{"values":[-171,-57,57,171],"gridColor":"#F2F2F2","gridWidth":0.8,"title":null}},"y":{"field":"y","type":"quantitative","scale":{"domain":[-250,287],"nice":false,"zero":false},"axis":{"values":[168,56,-56,-168],"gridColor":"#F2F2F2","gridWidth":0.8,"title":null}}}},
{"transform":[{"filter":"datum.fit==1"}],"mark":"line","encoding":{"x":{"field":"x","type":"quantitative","axis":{"values":[-114,0,114],"gridColor":"#FFFFFF","gridWidth":1.2,"title":null}},"y":{"field":"y","type":"quantitative","axis":{"values":[112,0,-112,-224],"gridColor":"#FFFFFF","gridWidth":1.2,"title":null}}}},
{"data":{"values":[{"panel":20,"label":"20"}]},"mark":"rect","encoding":{"x":{"datum":-224.5,"type":"quantitative","axis":null},"x2":{"datum":202},"y":{"datum":220,"type":"quantitative","axis":null},"y2":{"datum":287}}},
{"data":{"values":[{"panel":20,"label":"20"}]},"mark":"text","encoding":{"x":{"datum":-11.25,"type":"quantitative","axis":null},"y":{"datum":253.5,"type":"quantitative","axis":null},"text":{"field":"label","type":"nominal"}}}]}
],
"config": {
"view": {"stroke": null, "fill": "#E5E5E5"},
"axis": {"labels": false, "ticks": false, "domain": false, "grid": true},
"circle": {"color": "black", "opacity": 0.45, "size": 32, "strokeWidth": 0},
"line": {"color": "#3366FF", "strokeWidth": 1.5},
"rect": {"color": "#CCCCCC"},
"text": {"font": "Liberation Sans", "fontSize": 13, "color": "#1A1A1A", "align": "center", "baseline": "middle"}
}
}
